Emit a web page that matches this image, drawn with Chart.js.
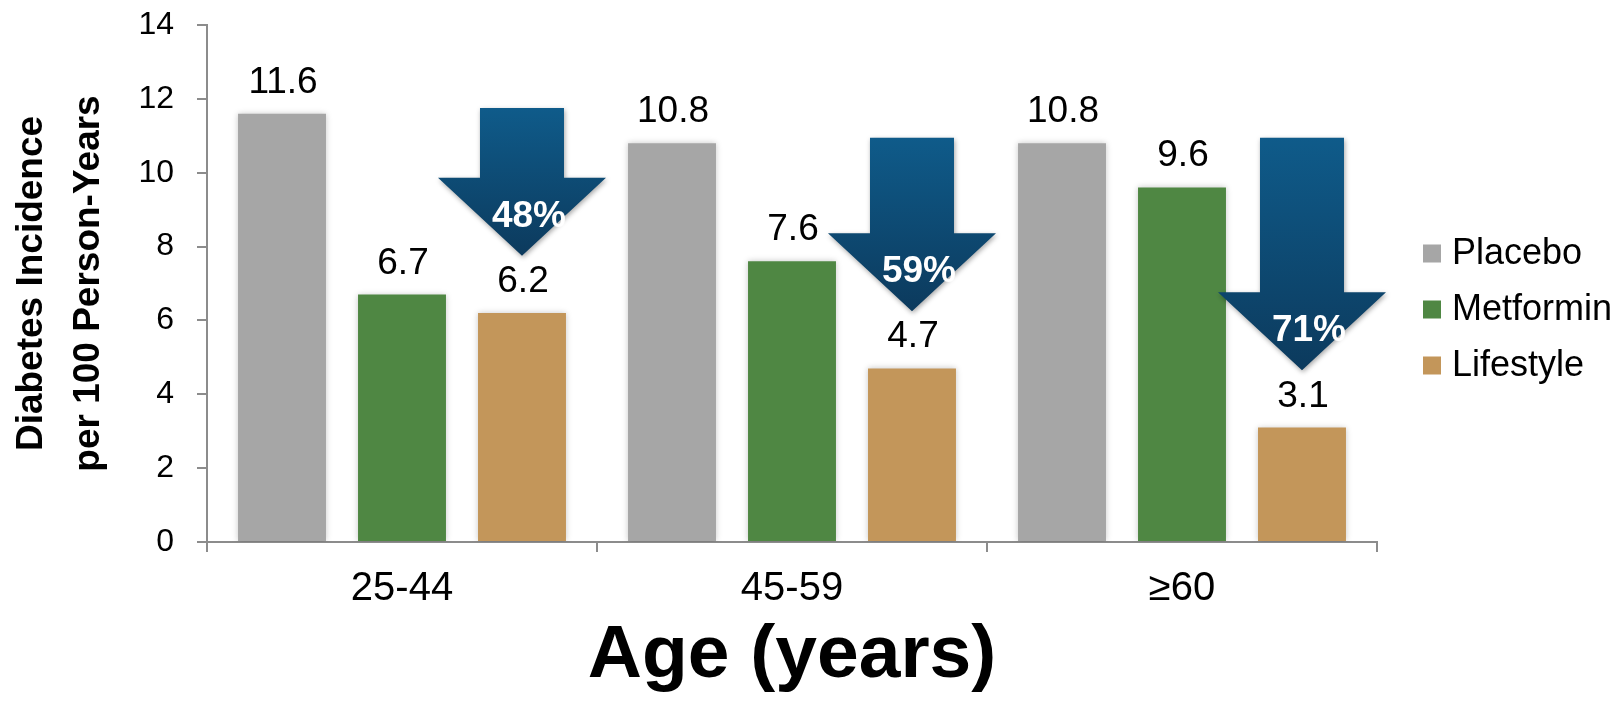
<!DOCTYPE html>
<html>
<head>
<meta charset="utf-8">
<title>Diabetes incidence by age group</title>
<script src="https://cdn.jsdelivr.net/npm/chart.js@4/dist/chart.umd.min.js"></script>
<style>
  html, body { margin: 0; padding: 0; background: #ffffff; }
  #wrap { width: 1621px; height: 701px; }
</style>
</head>
<body>
<div id="wrap"><canvas id="chart" width="1621" height="701"></canvas></div>
<script>
// Age groups on the x axis
const ageGroups = ['25-44', '45-59', '≥60'];

// Diabetes incidence per 100 person-years, per treatment arm
const placebo   = [11.6, 10.8, 10.8];
const metformin = [6.7, 7.6, 9.6];
const lifestyle = [6.2, 4.7, 3.1];

// Relative reduction of the lifestyle arm versus placebo (%)
const lifestyleReduction = [48, 59, 71];

// Y axis range
const yMin = 0;
const yMax = 14;
const yStep = 2;

const FONT = "'Liberation Sans', Arial, Helvetica, sans-serif";
const AXIS_GREY = '#8c8c8c';

// Soft glow under each bar
const barGlow = {
  id: 'barGlow',
  beforeDatasetDraw(chart) {
    const ctx = chart.ctx;
    ctx.save();
    ctx.shadowColor = 'rgba(0,0,0,0.22)';
    ctx.shadowBlur = 6;
    ctx.shadowOffsetX = 0;
    ctx.shadowOffsetY = 0;
  },
  afterDatasetDraw(chart) {
    chart.ctx.restore();
  }
};

// Value printed above every bar
const valueLabels = {
  id: 'valueLabels',
  afterDatasetsDraw(chart) {
    const ctx = chart.ctx;
    ctx.save();
    ctx.fillStyle = '#000';
    ctx.font = `37px ${FONT}`;
    ctx.textAlign = 'center';
    ctx.textBaseline = 'alphabetic';
    chart.data.datasets.forEach((ds, i) => {
      chart.getDatasetMeta(i).data.forEach((bar, j) => {
        ctx.fillText(ds.data[j].toFixed(1), bar.x + 1, bar.y - 21);
      });
    });
    ctx.restore();
  }
};

// Downward arrows from the placebo level to the lifestyle bar, with the reduction
const reductionArrows = {
  id: 'reductionArrows',
  afterDatasetsDraw(chart) {
    const ctx = chart.ctx;
    const y = chart.scales.y;
    const lifeMeta = chart.getDatasetMeta(2);
    const shaftHalf = 42, headHalf = 84, headLen = 78;
    lifeMeta.data.forEach((bar, j) => {
      const cx = bar.x;
      const top = y.getPixelForValue(placebo[j] + 0.15);
      const tip = y.getPixelForValue(lifestyle[j] + 1.55);
      const neck = tip - headLen;
      ctx.save();
      const grad = ctx.createLinearGradient(0, top, 0, tip);
      grad.addColorStop(0, '#0f5b8a');
      grad.addColorStop(1, '#0c3a5d');
      ctx.shadowColor = 'rgba(0,0,0,0.35)';
      ctx.shadowBlur = 5;
      ctx.shadowOffsetX = 1;
      ctx.shadowOffsetY = 2;
      ctx.fillStyle = grad;
      ctx.beginPath();
      ctx.moveTo(cx - shaftHalf, top);
      ctx.lineTo(cx + shaftHalf, top);
      ctx.lineTo(cx + shaftHalf, neck);
      ctx.lineTo(cx + headHalf, neck);
      ctx.lineTo(cx, tip);
      ctx.lineTo(cx - headHalf, neck);
      ctx.lineTo(cx - shaftHalf, neck);
      ctx.closePath();
      ctx.fill();
      ctx.restore();

      ctx.save();
      ctx.fillStyle = '#ffffff';
      ctx.font = `bold 37px ${FONT}`;
      ctx.textAlign = 'center';
      ctx.textBaseline = 'middle';
      ctx.fillText(lifestyleReduction[j] + '%', cx + 7, tip - 39);
      ctx.restore();
    });
  }
};

// Legend to the right of the plot area
const sideLegend = {
  id: 'sideLegend',
  afterDraw(chart) {
    const ctx = chart.ctx;
    const area = chart.chartArea;
    const boxX = area.right + 46;
    const midY = (area.top + area.bottom) / 2 + 26;
    const rowGap = 56;
    const box = 18;
    ctx.save();
    ctx.font = `36px ${FONT}`;
    ctx.textAlign = 'left';
    ctx.textBaseline = 'middle';
    chart.data.datasets.forEach((ds, i) => {
      const cy = midY + (i - 1) * rowGap;
      ctx.fillStyle = ds.backgroundColor;
      ctx.fillRect(boxX, cy - box / 2, box, box);
      ctx.fillStyle = '#000';
      ctx.fillText(ds.label, boxX + box + 11, cy + 1);
    });
    ctx.restore();
  }
};

new Chart(document.getElementById('chart'), {
  type: 'bar',
  data: {
    labels: ageGroups,
    datasets: [
      { label: 'Placebo',   data: placebo,   backgroundColor: '#a6a6a6' },
      { label: 'Metformin', data: metformin, backgroundColor: '#4f8743' },
      { label: 'Lifestyle', data: lifestyle, backgroundColor: '#c3965a' }
    ]
  },
  options: {
    responsive: false,
    animation: false,
    devicePixelRatio: 1,
    layout: { padding: { top: 25, right: 244, left: 0, bottom: 0 } },
    datasets: { bar: { categoryPercentage: 0.923, barPercentage: 0.733 } },
    plugins: {
      legend: { display: false },
      tooltip: { enabled: false }
    },
    scales: {
      x: {
        grid: {
          display: true, drawOnChartArea: false, drawTicks: true,
          tickLength: 10, color: AXIS_GREY, lineWidth: 2, offset: true
        },
        border: { display: true, color: AXIS_GREY, width: 2 },
        ticks: { color: '#000', font: { family: FONT, size: 40 }, padding: 13 },
        title: {
          display: true, text: 'Age (years)', color: '#000',
          font: { family: FONT, size: 75, weight: 'bold', lineHeight: 1.2 },
          padding: { top: 0, bottom: 0 }
        },
        afterFit(scale) {
          scale.height = 159;
          scale.paddingLeft = 0;
          scale.paddingRight = 0;
        }
      },
      y: {
        min: yMin, max: yMax,
        ticks: { stepSize: yStep, color: '#000', font: { family: FONT, size: 32 }, padding: 23 },
        grid: {
          display: true, drawOnChartArea: false, drawTicks: true,
          tickLength: 10, color: AXIS_GREY, lineWidth: 2
        },
        border: { display: true, color: AXIS_GREY, width: 2 },
        title: {
          display: true,
          text: ['Diabetes Incidence', 'per 100 Person-Years'],
          color: '#000',
          font: { family: FONT, size: 37, weight: 'bold', lineHeight: 1.55 },
          padding: { top: 3, bottom: 0 }
        },
        afterFit(scale) {
          scale.width = 207;
          scale.paddingTop = 0;
          scale.paddingBottom = 0;
        }
      }
    }
  },
  plugins: [barGlow, valueLabels, reductionArrows, sideLegend]
});
</script>
</body>
</html>
